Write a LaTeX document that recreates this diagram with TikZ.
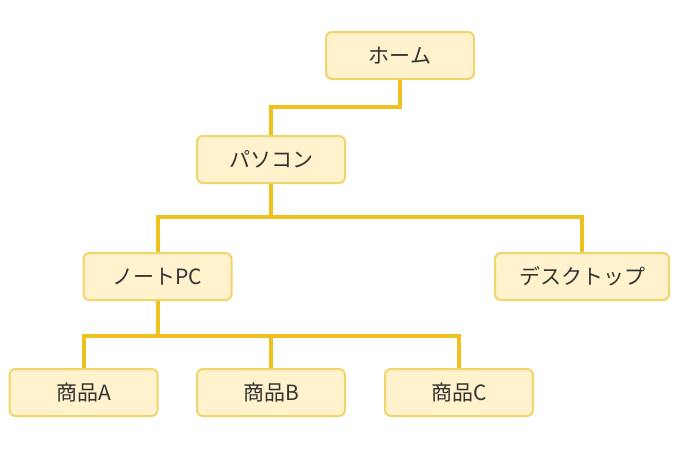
\documentclass[tikz,border=0pt]{standalone}
\usepackage{fontspec}
\setmainfont{Noto Sans CJK JP}
\usetikzlibrary{positioning}

\definecolor{boxfill}{HTML}{FFF2CC}
\definecolor{boxline}{HTML}{EFD56B}
\definecolor{wire}{HTML}{EDC21E}

\tikzset{
  page/.style={draw, rounded corners=6pt, line width=2pt, draw=boxline, fill=boxfill,
    minimum width=148pt, minimum height=47pt, inner sep=0pt,
    font=\fontsize{21}{24}\selectfont, text=black!80},
  wirepath/.style={draw=wire, line width=4pt}
}

\begin{document}
\begin{tikzpicture}[x=1pt, y=-1pt]
  \useasboundingbox (0,0) rectangle (680,464);
  \node[page] (home) at (400, 55.5) {ホーム};
  \node[page] (pc) at (271, 159.5) {パソコン};
  \node[page] (note) at (157.5, 276.5) {ノートPC};
  \node[page, minimum width=174pt] (desk) at (582, 276.5) {デスクトップ};
  \node[page] (itemA) at (83.5, 392.5) {商品A};
  \node[page] (itemB) at (271, 392.5) {商品B};
  \node[page] (itemC) at (459, 392.5) {商品C};
  \coordinate (j1) at (271, 107);
  \coordinate (j2) at (271, 217);
  \coordinate (j3) at (157.5, 336);
  \draw[wirepath] (home.south) |- (j1) -- (pc.north);
  \draw[wirepath] (pc.south) -- (j2) -| (note.north);
  \draw[wirepath] (j2) -| (desk.north);
  \draw[wirepath] (note.south) -- (j3) -| (itemA.north);
  \draw[wirepath] (j3) -| (itemB.north);
  \draw[wirepath] (j3) -| (itemC.north);
\end{tikzpicture}
\end{document}
